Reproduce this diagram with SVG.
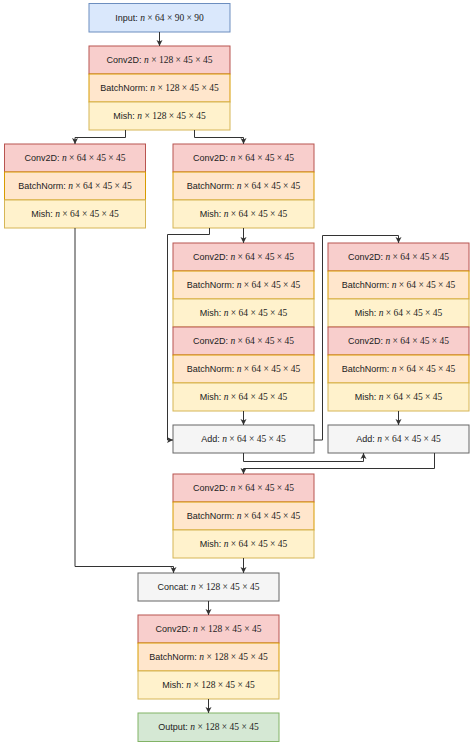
<svg xmlns="http://www.w3.org/2000/svg" width="474" height="747" viewBox="0 0 474 747">
<defs>
<marker id="arr" markerWidth="7" markerHeight="7" refX="6" refY="3.5" orient="auto" markerUnits="userSpaceOnUse">
<path d="M0,0.5 L6,3.5 L0,6.5 L1.5,3.5 z" fill="#333333"/>
</marker>
<style>
.blue{fill:#dae8fc;stroke:#6c8ebf;stroke-width:1}
.conv{fill:#f8cecc;stroke:#b85450;stroke-width:1}
.bn{fill:#ffe6cc;stroke:#d79b00;stroke-width:1}
.mish{fill:#fff2cc;stroke:#d6b656;stroke-width:1}
.gray{fill:#f5f5f5;stroke:#666666;stroke-width:1}
.green{fill:#d5e8d4;stroke:#82b366;stroke-width:1}
text{font-family:"Liberation Sans",Arial,sans-serif;font-size:9px;fill:#222222;text-anchor:middle}
.m{font-family:"Liberation Serif","Times New Roman",serif;font-size:9.5px}
.i{font-style:italic}
.c{fill:none;stroke:#333333;stroke-width:1;marker-end:url(#arr)}
</style>
</defs>
<rect width="474" height="747" fill="#ffffff"/>

<g id="input">
<rect class="blue" x="89" y="3.5" width="141" height="28.5"/>
<text x="159.5" y="21">Input: <tspan class="m i">n</tspan><tspan class="m"> × 64 × 90 × 90</tspan></text>
</g>

<g id="block1">
<rect class="conv" x="89" y="46" width="141" height="28"/>
<rect class="bn" x="89" y="74" width="141" height="28"/>
<rect class="mish" x="89" y="102" width="141" height="28"/>
<text x="159.5" y="63.2">Conv2D: <tspan class="m i">n</tspan><tspan class="m"> × 128 × 45 × 45</tspan></text>
<text x="159.5" y="91.2">BatchNorm: <tspan class="m i">n</tspan><tspan class="m"> × 128 × 45 × 45</tspan></text>
<text x="159.5" y="119.2">Mish: <tspan class="m i">n</tspan><tspan class="m"> × 128 × 45 × 45</tspan></text>
</g>

<g id="blockL">
<rect class="conv" x="4.5" y="144" width="141" height="28"/>
<rect class="bn" x="4.5" y="172" width="141" height="28"/>
<rect class="mish" x="4.5" y="200" width="141" height="28"/>
<text x="75" y="161.2">Conv2D: <tspan class="m i">n</tspan><tspan class="m"> × 64 × 45 × 45</tspan></text>
<text x="75" y="189.2">BatchNorm: <tspan class="m i">n</tspan><tspan class="m"> × 64 × 45 × 45</tspan></text>
<text x="75" y="217.2">Mish: <tspan class="m i">n</tspan><tspan class="m"> × 64 × 45 × 45</tspan></text>
</g>

<g id="blockR">
<rect class="conv" x="173" y="144" width="141" height="28"/>
<rect class="bn" x="173" y="172" width="141" height="28"/>
<rect class="mish" x="173" y="200" width="141" height="28"/>
<text x="243.5" y="161.2">Conv2D: <tspan class="m i">n</tspan><tspan class="m"> × 64 × 45 × 45</tspan></text>
<text x="243.5" y="189.2">BatchNorm: <tspan class="m i">n</tspan><tspan class="m"> × 64 × 45 × 45</tspan></text>
<text x="243.5" y="217.2">Mish: <tspan class="m i">n</tspan><tspan class="m"> × 64 × 45 × 45</tspan></text>
</g>

<g id="blockA">
<rect class="conv" x="173" y="243" width="141" height="28"/>
<rect class="bn" x="173" y="271" width="141" height="28"/>
<rect class="mish" x="173" y="299" width="141" height="28"/>
<rect class="conv" x="173" y="327" width="141" height="28"/>
<rect class="bn" x="173" y="355" width="141" height="28"/>
<rect class="mish" x="173" y="383" width="141" height="28"/>
<text x="243.5" y="260.2">Conv2D: <tspan class="m i">n</tspan><tspan class="m"> × 64 × 45 × 45</tspan></text>
<text x="243.5" y="288.2">BatchNorm: <tspan class="m i">n</tspan><tspan class="m"> × 64 × 45 × 45</tspan></text>
<text x="243.5" y="316.2">Mish: <tspan class="m i">n</tspan><tspan class="m"> × 64 × 45 × 45</tspan></text>
<text x="243.5" y="344.2">Conv2D: <tspan class="m i">n</tspan><tspan class="m"> × 64 × 45 × 45</tspan></text>
<text x="243.5" y="372.2">BatchNorm: <tspan class="m i">n</tspan><tspan class="m"> × 64 × 45 × 45</tspan></text>
<text x="243.5" y="400.2">Mish: <tspan class="m i">n</tspan><tspan class="m"> × 64 × 45 × 45</tspan></text>
</g>

<g id="blockB">
<rect class="conv" x="328" y="243" width="141" height="28"/>
<rect class="bn" x="328" y="271" width="141" height="28"/>
<rect class="mish" x="328" y="299" width="141" height="28"/>
<rect class="conv" x="328" y="327" width="141" height="28"/>
<rect class="bn" x="328" y="355" width="141" height="28"/>
<rect class="mish" x="328" y="383" width="141" height="28"/>
<text x="398.5" y="260.2">Conv2D: <tspan class="m i">n</tspan><tspan class="m"> × 64 × 45 × 45</tspan></text>
<text x="398.5" y="288.2">BatchNorm: <tspan class="m i">n</tspan><tspan class="m"> × 64 × 45 × 45</tspan></text>
<text x="398.5" y="316.2">Mish: <tspan class="m i">n</tspan><tspan class="m"> × 64 × 45 × 45</tspan></text>
<text x="398.5" y="344.2">Conv2D: <tspan class="m i">n</tspan><tspan class="m"> × 64 × 45 × 45</tspan></text>
<text x="398.5" y="372.2">BatchNorm: <tspan class="m i">n</tspan><tspan class="m"> × 64 × 45 × 45</tspan></text>
<text x="398.5" y="400.2">Mish: <tspan class="m i">n</tspan><tspan class="m"> × 64 × 45 × 45</tspan></text>
</g>

<g id="addA">
<rect class="gray" x="173" y="425" width="141" height="28"/>
<text x="243.5" y="442.2">Add: <tspan class="m i">n</tspan><tspan class="m"> × 64 × 45 × 45</tspan></text>
</g>

<g id="addB">
<rect class="gray" x="328" y="425" width="141" height="28"/>
<text x="398.5" y="442.2">Add: <tspan class="m i">n</tspan><tspan class="m"> × 64 × 45 × 45</tspan></text>
</g>

<g id="blockC">
<rect class="conv" x="173" y="474" width="141" height="28"/>
<rect class="bn" x="173" y="502" width="141" height="28"/>
<rect class="mish" x="173" y="530" width="141" height="28"/>
<text x="243.5" y="491.2">Conv2D: <tspan class="m i">n</tspan><tspan class="m"> × 64 × 45 × 45</tspan></text>
<text x="243.5" y="519.2">BatchNorm: <tspan class="m i">n</tspan><tspan class="m"> × 64 × 45 × 45</tspan></text>
<text x="243.5" y="547.2">Mish: <tspan class="m i">n</tspan><tspan class="m"> × 64 × 45 × 45</tspan></text>
</g>

<g id="concat">
<rect class="gray" x="138" y="573" width="141" height="28"/>
<text x="208.5" y="590.2">Concat: <tspan class="m i">n</tspan><tspan class="m"> × 128 × 45 × 45</tspan></text>
</g>

<g id="blockD">
<rect class="conv" x="138" y="615" width="141" height="28"/>
<rect class="bn" x="138" y="643" width="141" height="28"/>
<rect class="mish" x="138" y="671" width="141" height="28"/>
<text x="208.5" y="632.2">Conv2D: <tspan class="m i">n</tspan><tspan class="m"> × 128 × 45 × 45</tspan></text>
<text x="208.5" y="660.2">BatchNorm: <tspan class="m i">n</tspan><tspan class="m"> × 128 × 45 × 45</tspan></text>
<text x="208.5" y="688.2">Mish: <tspan class="m i">n</tspan><tspan class="m"> × 128 × 45 × 45</tspan></text>
</g>

<g id="output">
<rect class="green" x="138" y="713" width="141" height="28.5"/>
<text x="208.5" y="730.4">Output: <tspan class="m i">n</tspan><tspan class="m"> × 128 × 45 × 45</tspan></text>
</g>

<g id="connectors">
<path class="c" d="M159.5,32 V46"/>
<path class="c" d="M125.5,130 V137.5 H75 V144"/>
<path class="c" d="M194.5,130 V137.5 H243.5 V144"/>
<path class="c" d="M243.5,228 V243"/>
<path class="c" d="M209.5,228 V234.5 H167.5 V440 H173"/>
<path class="c" d="M243.5,411 V425"/>
<path class="c" d="M314,440 H322.5 V235.5 H398.5 V243"/>
<path class="c" d="M398.5,411 V425"/>
<path class="c" d="M243.5,453 V461.5 H363.5 V453"/>
<path class="c" d="M434.5,453 V468.5 H243.5 V474"/>
<path class="c" d="M75,228 V566.5 H173.5 V573"/>
<path class="c" d="M243.5,558 V573"/>
<path class="c" d="M208.5,601 V615"/>
<path class="c" d="M208.5,699 V713"/>
</g>
</svg>
